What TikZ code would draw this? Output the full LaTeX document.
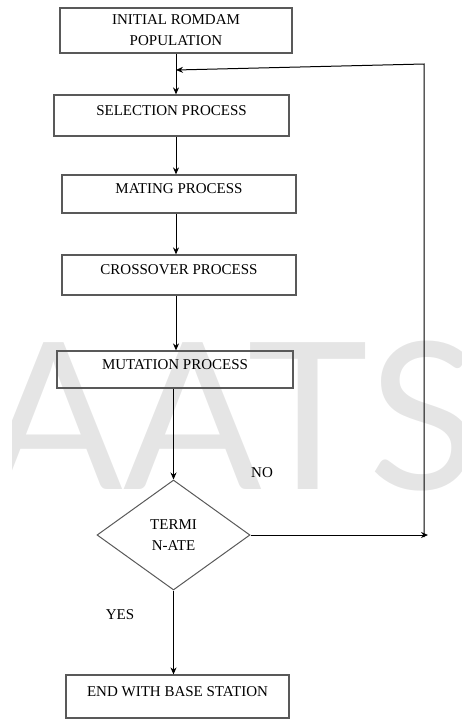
\documentclass[tikz,border=0pt]{standalone}
\usepackage{fontspec}
\setmainfont{Liberation Serif}
\newfontfamily\markfont{Lato}
\usetikzlibrary{arrows.meta,positioning,shapes.geometric}

\begin{document}
\begin{tikzpicture}[x=1pt,y=-1pt,
	kasten/.style={draw=black!65,line width=1.2pt,rectangle,inner sep=0pt,align=center,font=\fontsize{15}{21}\selectfont},
	prozess/.style={kasten,text height=10pt,text depth=11pt},
	entscheidung/.style={draw=black!65,line width=1pt,diamond,inner sep=0pt,align=center,font=\fontsize{15}{21}\selectfont},
	pfeil/.style={-{Stealth[length=7pt,width=6pt]},line width=1pt},
	antwort/.style={font=\fontsize{15}{17}\selectfont}]
\useasboundingbox (0,0) rectangle (461,720);

%-------------------------------------------------------------------------------
% Wasserzeichen
%-------------------------------------------------------------------------------
\begin{scope}
	\clip (12,0) rectangle (461,720);
	\node (wasserzeichen) [text=black!10,font=\markfont\fontsize{205}{205}\selectfont] at (232,416) {AATS};
\end{scope}

%-------------------------------------------------------------------------------
% Ablauf
%-------------------------------------------------------------------------------
\coordinate (achse)	at (176,0);
\coordinate (merge)	at (176,70);

\node (init)	[kasten,minimum width=232pt,minimum height=45pt]	at (176,30.5)	{INITIAL ROMDAM\\POPULATION};
\node (sel)	[prozess,minimum width=235pt,minimum height=41pt]	at (171.5,115.5)	{SELECTION PROCESS};
\node (mating)	[prozess,minimum width=234pt,minimum height=38pt]	at (179,194)	{MATING PROCESS};
\node (cross)	[prozess,minimum width=234pt,minimum height=40pt]	at (179,275)	{CROSSOVER PROCESS};
\node (mut)	[prozess,minimum width=236pt,minimum height=37pt]	at (175,369.5)	{MUTATION PROCESS};
\node (term)	[entscheidung,minimum width=153pt,minimum height=110pt]	at (173.5,535)	{TERMI\\N-ATE};
\node (ende)	[prozess,minimum width=223pt,minimum height=43pt]	at (177.5,696.5)	{END WITH BASE STATION};

\draw [pfeil] (init.south -| achse) -- (sel.north -| achse);
\draw [pfeil] (sel.south -| achse) -- (mating.north -| achse);
\draw [pfeil] (mating.south -| achse) -- (cross.north -| achse);
\draw [pfeil] (cross.south -| achse) -- (mut.north -| achse);
\draw [pfeil] (mut.south -| term.north) -- (term.north);
\draw [pfeil] (term.south) -- (ende.north -| term.south);

%-------------------------------------------------------------------------------
% Rueckfuehrung
%-------------------------------------------------------------------------------
\coordinate (rechtsunten)	at (424,537);
\coordinate (rechtsoben)	at (424,64);
\coordinate (pfeilende)	at (428,535);

\draw [pfeil] (term.east) -- (pfeilende);
\draw [pfeil] (rechtsunten) -- (rechtsoben) -- (merge);

\node (nein)	[antwort]	at (262,473)	{NO};
\node (ja)	[antwort]	at (120,615)	{YES};
\end{tikzpicture}
\end{document}
